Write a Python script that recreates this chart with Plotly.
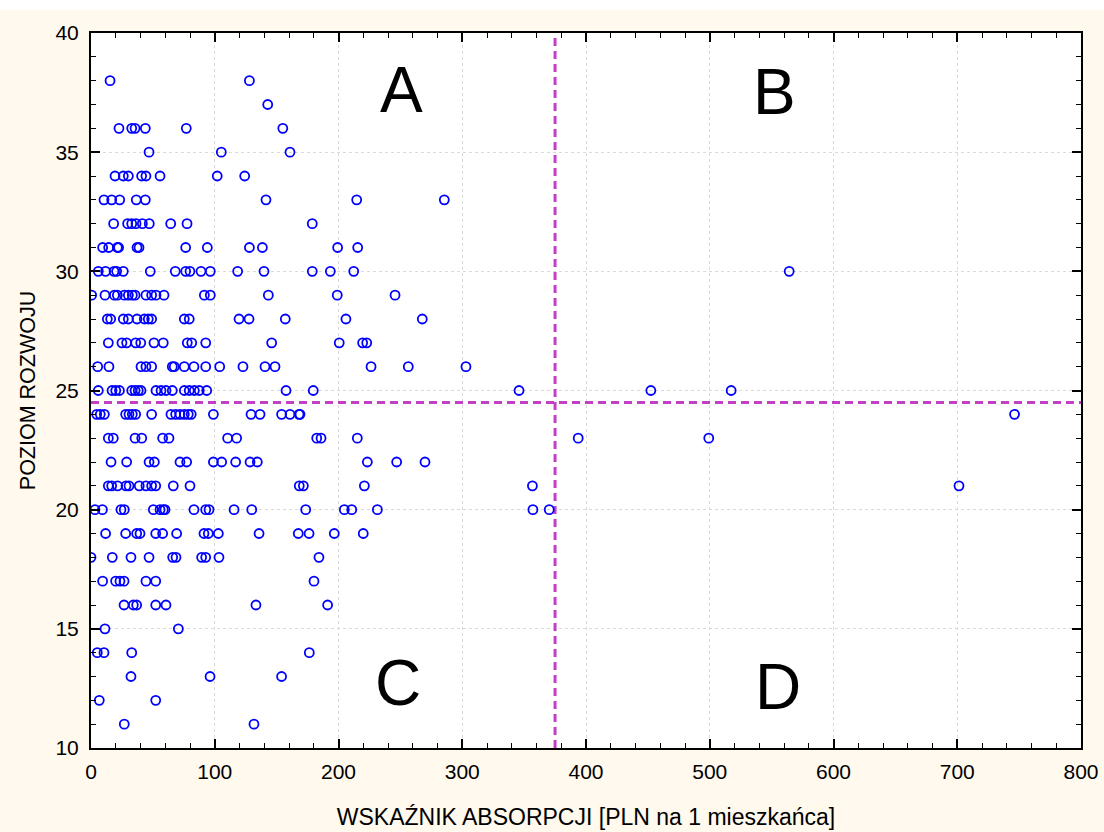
import plotly.graph_objects as go

# Development level rows and absorption values (PLN per inhabitant) read per row
levels = [38, 37, 36, 35, 34, 33, 32, 31, 30, 29, 28, 27, 26, 25, 24, 23, 22, 21, 20, 19, 18, 17, 16, 15, 14, 13, 12, 11]
absorption_rows = [
    [15.4, 128],
    [142.8],
    [22.6, 32.9, 35.6, 43.9, 77, 155],
    [46.9, 105.3, 160.8],
    [19.4, 26.1, 30.2, 40.9, 44.4, 55.8, 102, 124.2],
    [10.5, 16.7, 23.2, 36.6, 43.9, 141.4, 214.7, 285.5],
    [18.3, 29.6, 32.9, 36.4, 41.5, 47.1, 64.4, 77.6, 178.8],
    [9.4, 14.3, 21.3, 22.3, 37.2, 38.8, 76.5, 94, 128, 138.5, 199.3, 215.5],
    [5.9, 11.8, 18.6, 20.7, 26.1, 47.9, 68.1, 76.5, 80, 88.9, 96.4, 118.5, 139.8, 178.8, 193.4, 212.3, 564.2],
    [0.5, 11.3, 18.9, 21.3, 26.9, 30.2, 33.4, 35.6, 44.4, 49, 52.5, 59, 91.6, 96.4, 143.3, 199, 245.7],
    [13.2, 15.9, 26.1, 30.2, 37.2, 43.1, 46.3, 49, 75.4, 79.4, 119.6, 127.7, 157, 206, 267.7],
    [14, 25, 28.8, 36.1, 40.2, 50.9, 58.4, 77.8, 81.4, 92.7, 146, 200.6, 219.5, 222.8],
    [5.4, 14.5, 40.4, 44.4, 49, 65.7, 67.3, 75.4, 83.2, 92.7, 104, 122.8, 140.6, 148.7, 226.3, 256.4, 303],
    [5.9, 17, 20, 23, 32.9, 35.6, 38.2, 40.4, 52.5, 56.6, 60.6, 65.7, 75.4, 79.4, 83.5, 87.5, 93.5, 157.6, 179.6, 345.9, 452.4, 517.3],
    [4.6, 7.5, 10.8, 28, 30.7, 33.4, 36.1, 49, 64.6, 68.4, 71.9, 75.4, 78.6, 81, 98.9, 129.3, 136.6, 154, 160.8, 168.1, 168.9, 746.3],
    [14, 18, 35.6, 41, 57.9, 63, 110.4, 117.7, 182.4, 185.9, 215.2, 393.7, 499.2],
    [16.2, 28.8, 46.9, 51.2, 71.9, 77.3, 98.9, 105.6, 116.9, 128.5, 134.4, 223.3, 247, 269.9],
    [14, 16.7, 21.5, 28.3, 30.7, 39, 44.4, 49, 52.3, 66.5, 80, 168.3, 171.6, 220.9, 356.7, 701.4],
    [3.2, 9.2, 24.2, 26.9, 50.4, 55.8, 58.4, 59.8, 83.2, 92.7, 95.4, 115.6, 129.9, 173.5, 204.7, 210.7, 231.4, 357.1, 370.3],
    [11.8, 28, 36.9, 39.6, 52.3, 57.9, 69.2, 91.3, 94.8, 102.9, 135.8, 167.5, 176.2, 196.6, 220],
    [0, 17.2, 32.3, 46.9, 66, 68.7, 89.4, 92.7, 103.4, 184.2],
    [9.4, 19.9, 23.4, 26.7, 44.4, 52.3, 180.2],
    [26.7, 34.2, 36.9, 52.3, 60.6, 133.3, 191.2],
    [11.3, 70.6],
    [5.1, 10.5, 32.9, 176.4],
    [32.3, 96.2, 154],
    [6.7, 52.3],
    [26.9, 131.7],
]

absorption = []
development = []
for lvl, row in zip(levels, absorption_rows):
    for v in row:
        absorption.append(v)
        development.append(lvl)

# Quadrant split values
x_split = 375
y_split = 24.5

quadrant_labels = ["A", "B", "C", "D"]
quadrant_x = [251, 552, 248, 555]
quadrant_y = [37.62, 37.52, 12.72, 12.57]

x_ticks = [0, 100, 200, 300, 400, 500, 600, 700, 800]
y_ticks = [10, 15, 20, 25, 30, 35, 40]

FONT = "Liberation Sans, Arial, sans-serif"
DASH_COLOR = "#C23FC6"

fig = go.Figure()

fig.add_trace(go.Scatter(
    x=[x_split, x_split], y=[10, 40], mode="lines",
    line=dict(color=DASH_COLOR, width=3, dash="8px,5px"),
    hoverinfo="skip", showlegend=False,
))
fig.add_trace(go.Scatter(
    x=[0, 800], y=[y_split, y_split], mode="lines",
    line=dict(color=DASH_COLOR, width=3, dash="8px,5px"),
    hoverinfo="skip", showlegend=False,
))
fig.add_trace(go.Scatter(
    x=absorption, y=development, mode="markers",
    marker=dict(symbol="circle-open", size=9, color="#0000FF",
                line=dict(width=1.8, color="#0000FF")),
    showlegend=False,
))

for lab, qx, qy in zip(quadrant_labels, quadrant_x, quadrant_y):
    fig.add_annotation(x=qx, y=qy, text=lab, showarrow=False,
                       font=dict(family=FONT, size=64, color="black"),
                       xanchor="center", yanchor="middle")

# white strip at very top of the picture
fig.add_shape(type="rect", xref="paper", yref="paper",
              x0=-0.2, x1=1.2, y0=1 + 23 / 715, y1=1.2,
              fillcolor="white", line=dict(width=0), layer="below")

axis_common = dict(
    showline=True, linecolor="black", linewidth=2, mirror="ticks",
    ticks="inside", ticklen=9, tickwidth=1.5, tickcolor="black",
    showgrid=True, gridcolor="#DADADA", griddash="dot", gridwidth=1,
    zeroline=False, automargin=False,
    tickfont=dict(family=FONT, size=21, color="black"),
)

fig.update_xaxes(
    range=[0, 800], tickvals=x_ticks, ticklabelstandoff=4,
    minor=dict(dtick=20, ticks="inside", ticklen=5, tickcolor="black", tickwidth=1.2, showgrid=False),
    title=dict(text="WSKAŹNIK ABSORPCJI [PLN na 1 mieszkańca]",
               font=dict(family=FONT, size=23, color="black"), standoff=27),
    **axis_common,
)
fig.update_yaxes(
    range=[10, 40], tickvals=y_ticks, ticklabelstandoff=6,
    minor=dict(dtick=1, ticks="inside", ticklen=5, tickcolor="black", tickwidth=1.2, showgrid=False),
    title=dict(text="POZIOM ROZWOJU",
               font=dict(family=FONT, size=21.5, color="black"), standoff=14),
    **axis_common,
)

fig.update_layout(
    width=1104, height=832,
    margin=dict(l=91, r=23, t=33, b=84),
    paper_bgcolor="#FFF9EE",
    plot_bgcolor="white",
    showlegend=False,
)

fig.write_html("out.html")
